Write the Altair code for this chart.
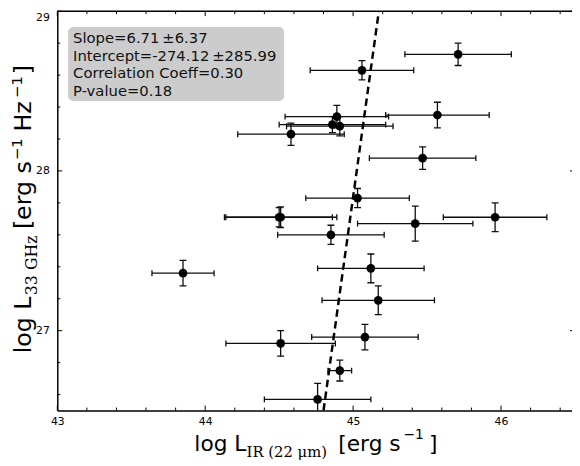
import altair as alt
import pandas as pd

# ---- data ----
x_ir = [45.71, 45.06, 45.57, 44.89, 44.86, 44.91, 44.58, 45.47, 45.03, 44.51, 44.50,
        45.96, 45.42, 44.85, 43.85, 45.12, 45.17, 45.08, 44.51, 44.91, 44.76]
y_33 = [28.73, 28.63, 28.35, 28.34, 28.29, 28.28, 28.23, 28.08, 27.83, 27.71, 27.71,
        27.71, 27.67, 27.60, 27.36, 27.39, 27.19, 26.96, 26.92, 26.75, 26.57]
x_err = [0.36, 0.35, 0.35, 0.35, 0.36, 0.36, 0.36, 0.36, 0.35, 0.38, 0.36,
         0.35, 0.39, 0.36, 0.21, 0.36, 0.38, 0.36, 0.37, 0.08, 0.36]
y_err = [0.07, 0.06, 0.08, 0.07, 0.05, 0.06, 0.07, 0.07, 0.06, 0.065, 0.06,
         0.09, 0.11, 0.06, 0.08, 0.09, 0.09, 0.08, 0.08, 0.065, 0.10]

fit_x = [44.80, 45.174]
fit_y = [26.5, 29.0]

x_major = [43, 44, 45, 46]
x_minor = [43.2, 43.4, 43.6, 43.8, 44.2, 44.4, 44.6, 44.8, 45.2, 45.4, 45.6, 45.8, 46.2, 46.4]
y_major = [27, 28, 29]
y_minor = [26.6, 26.8, 27.2, 27.4, 27.6, 27.8, 28.2, 28.4, 28.6, 28.8]

stats_lines = ["Slope=6.71\u2009\u00b16.37",
               "Intercept=-274.12\u2009\u00b1285.99",
               "Correlation Coeff=0.30",
               "P-value=0.18"]

W, H = 522, 405
X_DOMAIN = [43, 46.48]
Y_DOMAIN = [26.5, 29]
SANS = "DejaVu Sans"
SERIF = "DejaVu Serif"
INK = "#0d0d0d"

df = pd.DataFrame(dict(x=x_ir, y=y_33, xe=x_err, ye=y_err))
df["x_lo"] = df.x - df.xe
df["x_hi"] = df.x + df.xe
df["y_lo"] = df.y - df.ye
df["y_hi"] = df.y + df.ye

xs = alt.Scale(domain=X_DOMAIN, nice=False, zero=False)
ys = alt.Scale(domain=Y_DOMAIN, nice=False, zero=False)
xaxis = alt.Axis(values=x_major, format="d", title=None, ticks=False, tickSize=0, grid=False,
                 labelFontSize=11, labelPadding=5, labelFlush=False, labelColor="black",
                 labelFont=SANS, domainColor="black", domainWidth=1.5)
yaxis = alt.Axis(values=y_major, format="d", title=None, ticks=False, tickSize=0, grid=False,
                 labelFontSize=11, labelPadding=8, labelFlush=True, labelColor="black",
                 labelFont=SANS, domainColor="black", domainWidth=1.5)


def X(f):
    return alt.X(f, type="quantitative", scale=xs, axis=xaxis)


def Y(f):
    return alt.Y(f, type="quantitative", scale=ys, axis=yaxis)


base = alt.Chart(df)

box = alt.Chart(pd.DataFrame({"a": [0]})).mark_rect(color="#cccccc", cornerRadius=5).encode(
    x=alt.value(11), x2=alt.value(230), y=alt.value(16), y2=alt.value(91))

text_layers = []
for i, line in enumerate(stats_lines):
    text_layers.append(
        alt.Chart(pd.DataFrame({"t": [line]})).mark_text(
            align="left", baseline="middle", fontSize=15, font=SANS, color="#111111"
        ).encode(x=alt.value(16), y=alt.value(27 + 18 * i), text="t:N"))

xbars = base.mark_rule(color=INK, strokeWidth=1.3, clip=True).encode(
    x=X("x_lo"), x2="x_hi", y=Y("y"))
ybars = base.mark_rule(color=INK, strokeWidth=1.3, clip=True).encode(
    x=X("x"), y=Y("y_lo"), y2="y_hi")
xcap_lo = base.mark_tick(orient="vertical", size=6, thickness=1.3, color=INK, clip=True, opacity=1).encode(
    x=X("x_lo"), y=Y("y"))
xcap_hi = base.mark_tick(orient="vertical", size=6, thickness=1.3, color=INK, clip=True, opacity=1).encode(
    x=X("x_hi"), y=Y("y"))
ycap_lo = base.mark_tick(orient="horizontal", size=7, thickness=1.3, color=INK, clip=True, opacity=1).encode(
    x=X("x"), y=Y("y_lo"))
ycap_hi = base.mark_tick(orient="horizontal", size=7, thickness=1.3, color=INK, clip=True, opacity=1).encode(
    x=X("x"), y=Y("y_hi"))
points = base.mark_circle(size=78, color="black", opacity=1).encode(x=X("x"), y=Y("y"))

fit = alt.Chart(pd.DataFrame({"fx": fit_x, "fy": fit_y})).mark_line(
    color="black", strokeWidth=2.5, strokeDash=[7.5, 4.5], clip=True).encode(x=X("fx"), y=Y("fy"))


# ---- inward ticks on all four sides ----
def xticks(vals, length):
    d = alt.Chart(pd.DataFrame({"v": vals}))
    bottom = d.mark_rule(color="black", strokeWidth=1).encode(
        x=X("v"), y=alt.value(H), y2=alt.value(H - length))
    top = d.mark_rule(color="black", strokeWidth=1).encode(
        x=X("v"), y=alt.value(0), y2=alt.value(length))
    return [bottom, top]


def yticks(vals, length):
    d = alt.Chart(pd.DataFrame({"v": vals}))
    left = d.mark_rule(color="black", strokeWidth=1).encode(
        y=Y("v"), x=alt.value(0), x2=alt.value(length))
    right = d.mark_rule(color="black", strokeWidth=1).encode(
        y=Y("v"), x=alt.value(525 - length), x2=alt.value(525))
    return [left, right]


tick_layers = xticks(x_major, 5) + xticks(x_minor, 3) + yticks(y_major, 5) + yticks(y_minor, 3)

top_spine = alt.Chart(pd.DataFrame({"a": [0]})).mark_rule(color="black", strokeWidth=1.5).encode(
    x=alt.value(0), x2=alt.value(W), y=alt.value(0))


# ---- axis titles built from text pieces (sub/superscripts) ----
def piece(txt, x, y, size, font=SANS, angle=0):
    return alt.Chart(pd.DataFrame({"t": [txt]})).mark_text(
        align="left", baseline="alphabetic", fontSize=size, font=font, color="black", angle=angle
    ).encode(x=alt.value(x), y=alt.value(y), text="t:N")


xtitle = [
    piece("log L", 139, 446, 22),
    piece("IR (22 \u03bcm)", 192, 452, 15, SERIF),
    piece("[erg s", 285, 446, 22),
    piece("\u22121", 351, 434, 14),
    piece("]", 377, 446, 22),
]

YB = -27
ytitle = [
    piece("log L", YB, 347, 24, angle=270),
    piece("33 GHz", YB + 6, 288, 16, SERIF, angle=270),
    piece("[erg s", YB, 221, 24, angle=270),
    piece("\u22121", YB - 9, 151, 15, angle=270),
    piece("Hz", YB, 122, 24, angle=270),
    piece("\u22121", YB - 9, 88, 15, angle=270),
    piece("]", YB, 64, 24, angle=270),
]

chart = alt.layer(
    box, *text_layers, xbars, ybars, xcap_lo, xcap_hi, ycap_lo, ycap_hi, fit, points,
    *tick_layers, top_spine, *xtitle, *ytitle
).properties(
    width=W, height=H,
    autosize=alt.AutoSizeParams(type="none"),
    padding={"left": 50, "top": 0, "right": 0, "bottom": 53},
).configure_view(stroke=None)

chart.save("out.html", embed_options={"renderer": "svg", "actions": False})
